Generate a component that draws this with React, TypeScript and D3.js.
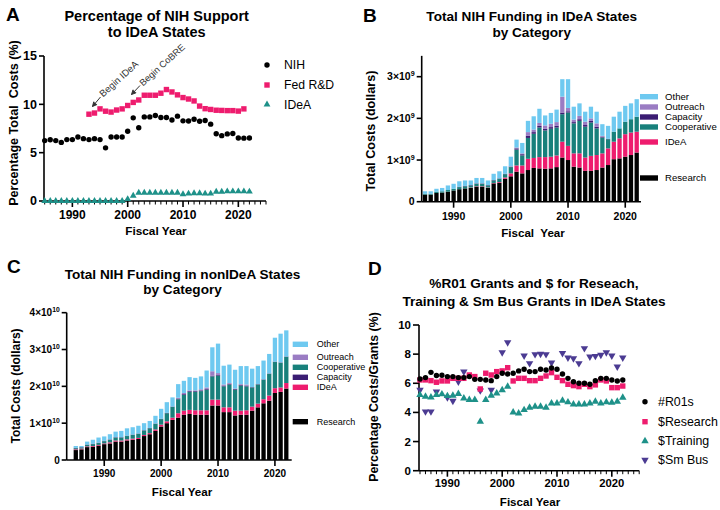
import React from "react";
import * as d3 from "d3";

const FONT = "'Liberation Sans', Arial, Helvetica, sans-serif";

// ---------- shared categories ----------
const YEARS = [1985,1986,1987,1988,1989,1990,1991,1992,1993,1994,1995,1996,1997,1998,1999,2000,2001,2002,2003,2004,2005,2006,2007,2008,2009,2010,2011,2012,2013,2014,2015,2016,2017,2018,2019,2020,2021,2022];
const DECADES = [1990, 2000, 2010, 2020];

// ---------- Panel A (percent) ----------
const A_NIH = [6.25,6.33,6.25,6.06,6.35,6.35,6.62,6.45,6.35,6.45,6.35,5.5,6.62,6.62,6.62,7.22,8.6,7.58,8.7,8.7,8.85,8.64,8.64,8.38,8.78,8.29,8.27,8.45,8.25,8.33,7.95,6.95,6.76,6.94,6.98,6.52,6.5,6.52];
const A_FEDRD = [null,null,null,null,null,null,null,null,8.98,9.1,9.53,9.29,9.2,9.41,9.53,9.88,10.2,10.45,10.94,10.94,10.94,11.15,11.53,11.28,10.98,10.7,10.55,10.35,9.82,9.55,9.47,9.39,9.37,9.35,9.35,9.3,9.53,null];
const A_IDEA = [0,0,0,0,0,0,0,0,0,0,0,0,0,0,0,0.2,0.55,0.85,0.86,0.86,0.86,0.86,0.86,0.86,0.86,0.7,0.76,0.8,0.8,0.76,0.76,0.96,0.96,1.0,1.0,1.0,1.0,0.97];
const A_TICKS = [0, 5, 10, 15];

// ---------- Panel B (billions of dollars) ----------
const B_RESEARCH = [0.17,0.17,0.21,0.22,0.24,0.27,0.30,0.32,0.33,0.36,0.36,0.33,0.44,0.45,0.55,0.61,0.72,0.68,0.76,0.81,0.80,0.79,0.80,0.83,1.06,1.00,0.84,0.82,0.74,0.74,0.76,0.82,0.88,1.02,1.04,1.08,1.12,1.18];
const B_IDEA = [0,0,0,0,0,0,0,0,0.01,0.01,0.01,0.01,0.01,0.02,0.03,0.07,0.15,0.19,0.27,0.24,0.27,0.28,0.28,0.28,0.38,0.34,0.32,0.34,0.32,0.36,0.36,0.34,0.40,0.42,0.48,0.54,0.54,0.50];
const B_COOP = [0.02,0.02,0.03,0.03,0.04,0.04,0.05,0.05,0.05,0.06,0.06,0.05,0.06,0.08,0.08,0.15,0.38,0.24,0.50,0.58,0.71,0.64,0.67,0.67,0.66,0.80,0.72,0.78,0.74,0.80,0.64,0.38,0.22,0.24,0.24,0.30,0.32,0.36];
const B_CAP = [0,0,0,0,0,0,0.01,0.01,0.01,0.01,0.01,0.01,0.01,0.01,0.01,0.01,0.03,0.03,0.05,0.04,0.04,0.04,0.04,0.04,0.04,0.03,0.03,0.04,0.04,0.04,0.04,0.02,0.01,0,0,0,0,0];
const B_OUT = [0,0,0,0,0,0,0,0,0,0,0,0,0,0,0,0.01,0.02,0.02,0.09,0.06,0.07,0.08,0.08,0.09,0.38,0.08,0.06,0.08,0.08,0.06,0.08,0.02,0,0,0,0,0,0];
const B_OTHER = [0.06,0.06,0.07,0.08,0.11,0.12,0.13,0.13,0.11,0.13,0.13,0.11,0.15,0.17,0.18,0.23,0.19,0.25,0.27,0.32,0.34,0.24,0.26,0.30,0.42,0.69,0.31,0.30,0.24,0.28,0.28,0.28,0.31,0.36,0.40,0.38,0.38,0.42];
const B_TICKS = [0, 1, 2, 3];

// ---------- Panel C (tens of billions of dollars) ----------
const C_RESEARCH = [0.27,0.29,0.35,0.36,0.39,0.43,0.45,0.50,0.50,0.53,0.55,0.57,0.65,0.70,0.79,0.91,1.00,1.09,1.15,1.23,1.25,1.23,1.23,1.23,1.48,1.48,1.30,1.30,1.21,1.23,1.23,1.34,1.43,1.54,1.61,1.82,1.85,1.94];
const C_IDEA = [0.02,0.02,0.02,0.02,0.02,0.02,0.03,0.03,0.03,0.03,0.03,0.03,0.03,0.03,0.04,0.05,0.05,0.06,0.12,0.11,0.11,0.12,0.12,0.12,0.16,0.16,0.13,0.13,0.13,0.11,0.12,0.11,0.10,0.11,0.14,0.13,0.12,0.15];
const C_COOP = [0.03,0.03,0.04,0.05,0.05,0.06,0.07,0.08,0.08,0.09,0.10,0.11,0.12,0.13,0.15,0.15,0.22,0.29,0.38,0.43,0.49,0.50,0.52,0.56,0.63,0.65,0.57,0.62,0.57,0.68,0.65,0.52,0.52,0.53,0.59,0.71,0.67,0.71];
const C_CAP = [0.01,0.01,0.01,0.01,0.01,0.01,0.01,0.01,0.01,0.01,0.01,0.01,0.01,0.01,0.01,0.01,0.01,0.01,0.02,0.02,0.02,0.02,0.02,0.02,0.02,0.02,0.02,0.02,0.02,0.02,0.02,0.01,0.01,0.01,0.01,0.01,0.01,0.01];
const C_OUT = [0,0,0,0,0,0,0,0,0,0,0,0,0,0,0,0,0,0,0.02,0.03,0.02,0.02,0.03,0.04,0.12,0.05,0.03,0.02,0.01,0.02,0.03,0,0,0,0,0,0,0];
const C_OTHER = [0.05,0.03,0.08,0.11,0.14,0.12,0.14,0.15,0.17,0.20,0.20,0.21,0.19,0.19,0.21,0.27,0.29,0.25,0.37,0.33,0.36,0.34,0.35,0.46,0.65,0.80,0.51,0.50,0.51,0.49,0.50,0.50,0.49,0.51,0.53,0.65,0.78,0.71];
const C_TICKS = [0, 1, 2, 3, 4];

// ---------- Panel D (percent) ----------
const D_R01 = [6.29,6.39,6.75,6.53,6.55,6.46,6.46,6.39,6.39,6.46,6.27,6.27,6.23,6.18,6.46,6.69,6.64,6.69,6.85,6.96,6.8,6.8,6.96,6.91,7.05,6.96,6.64,6.34,6.11,6.0,6.0,5.93,6.18,6.34,6.34,6.23,6.16,6.23];
const D_RES = [6.23,6.23,6.18,6.07,6.16,6.16,6.34,6.34,6.34,6.57,6.46,5.61,6.69,6.57,6.8,6.85,7.07,6.16,6.34,6.34,6.18,6.18,6.34,6.5,6.73,6.41,6.18,5.93,5.84,5.77,5.93,5.77,5.89,6.23,6.16,5.7,5.7,5.81];
const D_TRAIN = [5.2,5.09,5.04,5.2,5.25,5.13,5.15,5.27,4.97,4.86,4.86,3.37,4.86,5.15,5.31,5.54,5.77,4.01,3.94,4.17,4.33,4.4,4.4,4.33,4.63,4.63,4.81,4.7,4.56,4.56,4.56,4.63,4.74,4.63,4.7,4.67,4.74,5.02];
const D_SMBUS = [5.54,4.06,4.06,5.43,null,5.02,4.79,6.11,6.8,null,null,5.5,null,5.54,null,8.12,8.81,null,null,7.9,7.37,7.99,8.01,7.99,7.42,null,8.06,7.76,7.71,7.37,8.4,7.83,7.87,7.94,8.12,7.9,7.14,7.76];
const D_TICKS = [0, 2, 4, 6, 8, 10];

// ---------- colours ----------
const BLACK = "#000000";
const PINK = "#ee1c6e";
const TEAL = "#1e9189";
const COOP = "#18807b";
const CAPACITY = "#3b1d73";
const OUTREACH = "#9a7cc3";
const OTHER = "#6ec9f0";
const SMBUS = "#4b3b92";

const STACK_KEYS = ["research", "idea", "coop", "cap", "out", "other"];
const STACK_COLORS: Record<string, string> = {
  research: BLACK, idea: PINK, coop: COOP, cap: CAPACITY, out: OUTREACH, other: OTHER,
};

const triUp = d3.symbol().type(d3.symbolTriangle).size(20)() as string;
const triBig = d3.symbol().type(d3.symbolTriangle).size(24)() as string;

function Marker({ kind, x, y, color }: { kind: string; x: number; y: number; color: string }) {
  if (kind === "circle") return <circle cx={x} cy={y} r={2.7} fill={color} />;
  if (kind === "square") return <rect x={x - 2.7} y={y - 2.7} width={5.4} height={5.4} fill={color} />;
  if (kind === "tri") return <path d={triUp} transform={`translate(${x},${y})`} fill={color} />;
  if (kind === "triBig") return <path d={triBig} transform={`translate(${x},${y})`} fill={color} />;
  return <path d={triBig} transform={`translate(${x},${y}) rotate(180)`} fill={color} />;
}

function Arrow({ x1, y1, x2, y2 }: { x1: number; y1: number; x2: number; y2: number }) {
  const ang = Math.atan2(y2 - y1, x2 - x1);
  const L = 5, W = 0.45;
  const p1 = [x2 - L * Math.cos(ang - W), y2 - L * Math.sin(ang - W)];
  const p2 = [x2 - L * Math.cos(ang + W), y2 - L * Math.sin(ang + W)];
  return (
    <g stroke="#333" strokeWidth={1} fill="none">
      <line x1={x1} y1={y1} x2={x2} y2={y2} />
      <path d={`M${p1[0]},${p1[1]}L${x2},${y2}L${p2[0]},${p2[1]}`} fill="#333" />
    </g>
  );
}

function sup(base: string, exp: string, fs: number) {
  return (
    <>
      {base}
      <tspan fontSize={fs * 0.68} dy={-fs * 0.38}>{exp}</tspan>
    </>
  );
}

// ---------- Panel A ----------
function PanelA() {
  const x = d3.scaleLinear().domain([1985, 2025]).range([44.7, 266]);
  const y = d3.scaleLinear().domain([0, 15]).range([201, 56]);
  const ax = 44;
  const minor = d3.range(1985, 2026);
  return (
    <g>
      <text x={6} y={21} fontSize={19} fontWeight="bold">A</text>
      <text x={156.7} y={21} fontSize={14.5} fontWeight="bold" textAnchor="middle">Percentage of NIH Support</text>
      <text x={156.7} y={36.5} fontSize={14.5} fontWeight="bold" textAnchor="middle">to IDeA States</text>
      <g stroke="#000" strokeWidth={1.6} fill="none">
        <line x1={ax} y1={y(15)} x2={ax} y2={y(0)} />
        <line x1={ax} y1={y(0)} x2={x(2025)} y2={y(0)} />
        {A_TICKS.map((t) => <line key={t} x1={ax - 5} x2={ax} y1={y(t)} y2={y(t)} />)}
        {minor.map((t) => <line key={t} x1={x(t)} x2={x(t)} y1={y(0)} y2={y(0) + (t % 10 === 0 ? 6 : 3.5)} strokeWidth={t % 10 === 0 ? 1.6 : 1} />)}
      </g>
      {A_TICKS.map((t) => (
        <text key={t} x={ax - 7} y={y(t)} dy="0.35em" fontSize={12.5} fontWeight="bold" textAnchor="end">{t}</text>
      ))}
      {DECADES.map((t) => (
        <text key={t} x={x(t)} y={218.5} fontSize={12} fontWeight="bold" textAnchor="middle">{t}</text>
      ))}
      <text transform="translate(18,123) rotate(-90)" fontSize={12.6} fontWeight="bold" textAnchor="middle" style={{ whiteSpace: "pre" }}>{"Percentage Total  Costs (%)"}</text>
      <text x={156} y={235} fontSize={11.8} fontWeight="bold" textAnchor="middle">Fiscal Year</text>
      {YEARS.map((yr, i) => <Marker key={"i" + yr} kind="tri" x={x(yr)} y={y(A_IDEA[i])} color={TEAL} />)}
      {YEARS.map((yr, i) => A_FEDRD[i] == null ? null : <Marker key={"f" + yr} kind="square" x={x(yr)} y={y(A_FEDRD[i] as number)} color={PINK} />)}
      {YEARS.map((yr, i) => <Marker key={"n" + yr} kind="circle" x={x(yr)} y={y(A_NIH[i])} color={BLACK} />)}
      <Arrow x1={100.5} y1={97} x2={92.5} y2={106.5} />
      <text transform="translate(103,97.5) rotate(-42)" fontSize={9.6} fill="#333">Begin IDeA</text>
      <Arrow x1={140} y1={85.5} x2={131.5} y2={94.5} />
      <text transform="translate(143,86.5) rotate(-42)" fontSize={9.3} fill="#333">Begin CoBRE</text>
      <Marker kind="circle" x={267} y={65} color={BLACK} />
      <Marker kind="square" x={267} y={85} color={PINK} />
      <Marker kind="tri" x={267} y={104.5} color={TEAL} />
      <text x={284} y={65} dy="0.35em" fontSize={12.2}>NIH</text>
      <text x={284} y={85} dy="0.35em" fontSize={12.2}>Fed R&amp;D</text>
      <text x={284} y={104.5} dy="0.35em" fontSize={12.2}>IDeA</text>
    </g>
  );
}

// ---------- stacked bar panel ----------
type BarCfg = {
  letter: string; lx: number; ly: number;
  title: string[]; tx: number; tys: number[]; tfs: number;
  xr: [number, number]; ax: number; axEnd: number;
  y0: number; yTopVal: number; yUnitPx: number;
  ticks: number[]; exp: string; tickFs: number; xLabY: number;
  ytitle: string; ytx: number; yty: number; ytfs: number;
  xtitle: string; xtx: number; xty: number;
  legend: { key: string; label: string; y: number }[];
  swX: number; swW: number; txtX: number; legFs: number;
  data: Record<string, number[]>;
};

function BarPanel({ c }: { c: BarCfg }) {
  const x = d3.scaleLinear().domain([1985, 2022]).range(c.xr);
  const y = d3.scaleLinear().domain([0, 1]).range([c.y0, c.y0 - c.yUnitPx]);
  const table = YEARS.map((yr, i) => {
    const row: Record<string, number> = { year: yr };
    STACK_KEYS.forEach((k) => (row[k] = c.data[k][i]));
    return row;
  });
  const series = d3.stack<Record<string, number>>().keys(STACK_KEYS)(table);
  const bw = 4.3;
  return (
    <g>
      <text x={c.lx} y={c.ly} fontSize={19} fontWeight="bold">{c.letter}</text>
      {c.title.map((t, i) => (
        <text key={i} x={c.tx} y={c.tys[i]} fontSize={c.tfs} fontWeight="bold" textAnchor="middle">{t}</text>
      ))}
      {series.map((s) => (
        <g key={s.key} fill={STACK_COLORS[s.key]}>
          {s.map((d, i) => {
            const h = y(d[0]) - y(d[1]);
            if (h <= 0) return null;
            return <rect key={i} x={x(YEARS[i]) - bw / 2} y={y(d[1])} width={bw} height={h} />;
          })}
        </g>
      ))}
      <g stroke="#000" strokeWidth={1.6} fill="none">
        <line x1={c.ax} y1={y(c.yTopVal)} x2={c.ax} y2={c.y0} />
        <line x1={c.ax} y1={c.y0} x2={c.axEnd} y2={c.y0} />
        {c.ticks.map((t) => <line key={t} x1={c.ax - 5} x2={c.ax} y1={y(t)} y2={y(t)} />)}
        {DECADES.map((t) => <line key={t} x1={x(t)} x2={x(t)} y1={c.y0} y2={c.y0 + 6} />)}
      </g>
      {c.ticks.map((t) => (
        <text key={t} x={c.ax - 7} y={y(t)} dy="0.35em" fontSize={c.tickFs} fontWeight="bold" textAnchor="end">
          {t === 0 ? "0" : sup(`${t}×10`, c.exp, c.tickFs)}
        </text>
      ))}
      {DECADES.map((t) => (
        <text key={t} x={x(t)} y={c.xLabY} fontSize={c.tickFs} fontWeight="bold" textAnchor="middle">{t}</text>
      ))}
      <text transform={`translate(${c.ytx},${c.yty}) rotate(-90)`} fontSize={c.ytfs} fontWeight="bold" textAnchor="middle">{c.ytitle}</text>
      <text x={c.xtx} y={c.xty} fontSize={11.6} fontWeight="bold" textAnchor="middle" style={{ whiteSpace: "pre" }}>{c.xtitle}</text>
      {c.legend.map((l) => (
        <g key={l.key}>
          <rect x={c.swX} y={l.y - 2.7} width={c.swW} height={5.4} fill={STACK_COLORS[l.key]} />
          <text x={c.txtX} y={l.y} dy="0.35em" fontSize={c.legFs}>{l.label}</text>
        </g>
      ))}
    </g>
  );
}

const B_CFG: BarCfg = {
  letter: "B", lx: 363, ly: 22,
  title: ["Total NIH Funding in IDeA States", "by Category"], tx: 531.7, tys: [21, 36.5], tfs: 13.6,
  xr: [425, 636.7], ax: 421.7, axEnd: 641,
  y0: 201.7, yTopVal: 3.5, yUnitPx: 41.67,
  ticks: B_TICKS, exp: "9", tickFs: 10.5, xLabY: 219.5,
  ytitle: "Total Costs (dollars)", ytx: 375, yty: 131, ytfs: 12.6,
  xtitle: "Fiscal  Year", xtx: 533, xty: 237,
  legend: [
    { key: "other", label: "Other", y: 96.7 },
    { key: "out", label: "Outreach", y: 107 },
    { key: "cap", label: "Capacity", y: 117 },
    { key: "coop", label: "Cooperative", y: 127 },
    { key: "idea", label: "IDeA", y: 142 },
    { key: "research", label: "Research", y: 178 },
  ],
  swX: 640, swW: 18, txtX: 665, legFs: 9.6,
  data: { research: B_RESEARCH, idea: B_IDEA, coop: B_COOP, cap: B_CAP, out: B_OUT, other: B_OTHER },
};

const C_CFG: BarCfg = {
  letter: "C", lx: 7, ly: 273,
  title: ["Total NIH Funding in nonIDeA States", "by Category"], tx: 182.5, tys: [278.5, 294], tfs: 13.6,
  xr: [75.8, 286.3], ax: 66.7, axEnd: 291.7,
  y0: 460, yTopVal: 4, yUnitPx: 36.83,
  ticks: C_TICKS, exp: "10", tickFs: 10, xLabY: 477,
  ytitle: "Total Costs (dollars)", ytx: 20, yty: 386, ytfs: 12,
  xtitle: "Fiscal Year", xtx: 182, xty: 496,
  legend: [
    { key: "other", label: "Other", y: 344.3 },
    { key: "out", label: "Outreach", y: 357.3 },
    { key: "coop", label: "Cooperative", y: 367.3 },
    { key: "cap", label: "Capacity", y: 377.3 },
    { key: "idea", label: "IDeA", y: 387.3 },
    { key: "research", label: "Research", y: 421.7 },
  ],
  swX: 292.7, swW: 15.3, txtX: 316.7, legFs: 9,
  data: { research: C_RESEARCH, idea: C_IDEA, coop: C_COOP, cap: C_CAP, out: C_OUT, other: C_OTHER },
};

// ---------- Panel D ----------
function PanelD() {
  const x = d3.scaleLinear().domain([1985, 2025]).range([420, 639.2]);
  const y = d3.scaleLinear().domain([0, 10]).range([470.7, 325]);
  const ax = 419;
  const minor = d3.range(1985, 2026);
  return (
    <g>
      <text x={368} y={275} fontSize={19} fontWeight="bold">D</text>
      <text x={534} y={288} fontSize={13.6} fontWeight="bold" textAnchor="middle">%R01 Grants and $ for Reseach,</text>
      <text x={534} y={306} fontSize={13.6} fontWeight="bold" textAnchor="middle">Training &amp; Sm Bus Grants in IDeA States</text>
      <g stroke="#000" strokeWidth={1.6} fill="none">
        <line x1={ax} y1={y(10)} x2={ax} y2={y(0)} />
        <line x1={ax} y1={y(0)} x2={x(2025)} y2={y(0)} />
        {D_TICKS.map((t) => <line key={t} x1={ax - 6} x2={ax} y1={y(t)} y2={y(t)} />)}
        {minor.map((t) => <line key={t} x1={x(t)} x2={x(t)} y1={y(0)} y2={y(0) + (t % 10 === 0 ? 6 : 3.5)} strokeWidth={t % 10 === 0 ? 1.6 : 1} />)}
      </g>
      {D_TICKS.map((t) => (
        <text key={t} x={ax - 8} y={y(t)} dy="0.35em" fontSize={11.5} fontWeight="bold" textAnchor="end">{t}</text>
      ))}
      {DECADES.map((t) => (
        <text key={t} x={x(t)} y={487} fontSize={11.3} fontWeight="bold" textAnchor="middle">{t}</text>
      ))}
      <text transform="translate(378,397) rotate(-90)" fontSize={12.3} fontWeight="bold" textAnchor="middle">Percentage Costs/Grants (%)</text>
      <text x={530} y={506} fontSize={11.6} fontWeight="bold" textAnchor="middle">Fiscal Year</text>
      {YEARS.map((yr, i) => D_SMBUS[i] == null ? null : <Marker key={"s" + yr} kind="down" x={x(yr)} y={y(D_SMBUS[i] as number)} color={SMBUS} />)}
      {YEARS.map((yr, i) => <Marker key={"t" + yr} kind="triBig" x={x(yr)} y={y(D_TRAIN[i])} color={TEAL} />)}
      {YEARS.map((yr, i) => <Marker key={"r" + yr} kind="square" x={x(yr)} y={y(D_RES[i])} color={PINK} />)}
      {YEARS.map((yr, i) => <Marker key={"c" + yr} kind="circle" x={x(yr)} y={y(D_R01[i])} color={BLACK} />)}
      <Marker kind="circle" x={645} y={401.7} color={BLACK} />
      <Marker kind="square" x={645} y={421.7} color={PINK} />
      <Marker kind="triBig" x={645} y={441} color={TEAL} />
      <Marker kind="down" x={645} y={460} color={SMBUS} />
      <text x={658} y={401.7} dy="0.35em" fontSize={12.4}>#R01s</text>
      <text x={658} y={421.7} dy="0.35em" fontSize={12.4}>$Research</text>
      <text x={658} y={441} dy="0.35em" fontSize={12.4}>$Training</text>
      <text x={658} y={460} dy="0.35em" fontSize={12.4}>$Sm Bus</text>
    </g>
  );
}

export default function App() {
  return (
    <svg
      width={720}
      height={510}
      viewBox="0 0 720 510"
      style={{ position: "absolute", left: 0, top: 0, background: "#fff" }}
      fontFamily={FONT}
    >
      <rect width={720} height={510} fill="#fff" />
      <PanelA />
      <BarPanel c={B_CFG} />
      <BarPanel c={C_CFG} />
      <PanelD />
    </svg>
  );
}
